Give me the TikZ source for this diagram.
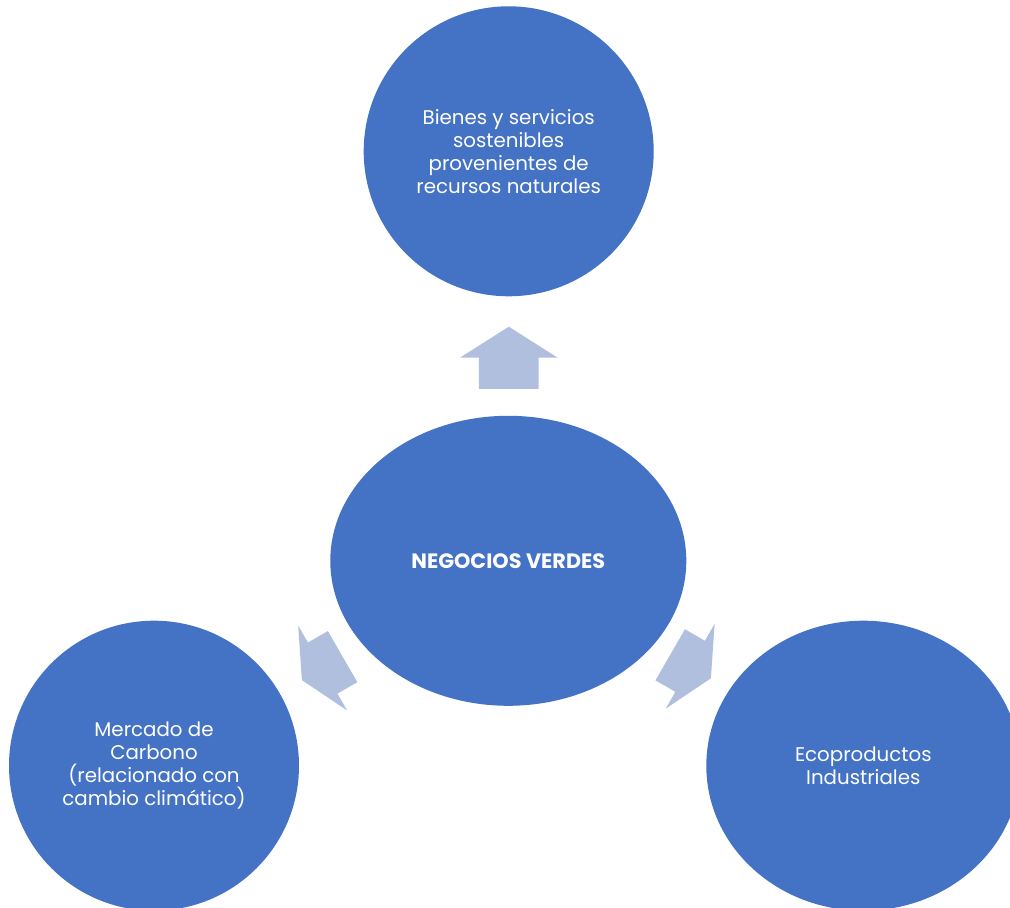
\documentclass[tikz,border=0pt]{standalone}
\usepackage{fontspec}
\setmainfont{Poppins}
\usepackage{tikz}
\usetikzlibrary{positioning,shapes.geometric}
\definecolor{bubbleblue}{HTML}{4472C4}
\definecolor{arrowfill}{HTML}{B1BFDF}

\begin{document}
\begin{tikzpicture}[x=1pt,y=1pt]
\tikzstyle{bubble} = [circle, fill=bubbleblue, text=white, inner sep=0pt,
    minimum size=290pt, align=center, font=\fontsize{19.8}{23}\selectfont]
\tikzstyle{oval} = [ellipse, fill=bubbleblue, text=white, inner sep=0pt,
    minimum height=290pt, align=center, font=\fontsize{19.8}{23}\selectfont]
\tikzstyle{fatarrow} = [fill=arrowfill]

\useasboundingbox (0,0) rectangle (1010,908);
\clip (0,0) rectangle (1010,908);

\node[oval, minimum width=356pt, font=\fontsize{20.8}{23}\selectfont\bfseries] (negocios) at (508.3,347.2) {NEGOCIOS VERDES};
\node[bubble] (recursos) at (508.7,756.7) {Bienes y servicios\\sostenibles\\provenientes de\\recursos naturales};
\node[bubble] (carbono) at (154,142.3) {Mercado de\\Carbono\\(relacionado con\\cambio climático)};
\node[oval, minimum width=314pt] (ecoproductos) at (863.3,142.3) {Ecoproductos\\Industriales};

% flechas
\fill[fatarrow, shift={(508.8,519)}, rotate=90] (0,-29.85) -- (31.3,-29.85) -- (31.3,-48.85)
    -- (62.3,0) -- (31.3,48.85) -- (31.3,29.85) -- (0,29.85) -- cycle;
\fill[fatarrow, shift={(342.6,251.4)}, rotate=210] (0,-29.5) -- (23,-29.5) -- (23,-49)
    -- (47,0) -- (23,49) -- (23,29.5) -- (0,29.5) -- cycle;
\fill[fatarrow, shift={(670.2,253.2)}, rotate=330] (0,-29.5) -- (23,-29.5) -- (23,-49)
    -- (47,0) -- (23,49) -- (23,29.5) -- (0,29.5) -- cycle;

\end{tikzpicture}
\end{document}
